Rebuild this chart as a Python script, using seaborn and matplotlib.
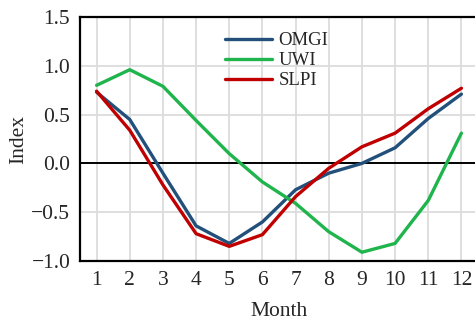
import matplotlib
matplotlib.use("Agg")
import matplotlib.pyplot as plt
import seaborn as sns
import pandas as pd

months = list(range(1, 13))
omgi = [0.73, 0.45, -0.10, -0.64, -0.82, -0.60, -0.27, -0.10, 0.00, 0.16, 0.46, 0.71]
uwi = [0.80, 0.96, 0.79, 0.44, 0.10, -0.19, -0.41, -0.70, -0.91, -0.82, -0.38, 0.31]
slpi = [0.74, 0.34, -0.22, -0.72, -0.85, -0.73, -0.34, -0.05, 0.17, 0.31, 0.56, 0.77]
series_names = ["OMGI", "UWI", "SLPI"]
colors = ["#22507a", "#1fb44c", "#c00000"]
yticks = [-1.0, -0.5, 0.0, 0.5, 1.0, 1.5]

df = pd.DataFrame({
    "Month": months * 3,
    "Index": omgi + uwi + slpi,
    "Series": [series_names[0]] * 12 + [series_names[1]] * 12 + [series_names[2]] * 12,
})

sns.set_style("white")
plt.rcParams["font.family"] = ["Liberation Serif", "DejaVu Serif"]

fig = plt.figure(figsize=(4.75, 3.22), dpi=100)
ax = fig.add_axes([80 / 475, (322 - 261) / 322, 398 / 475, (261 - 17) / 322])

ax.grid(True, color="#dcdcdc", linewidth=1.3)
ax.set_axisbelow(True)
ax.axhline(0, color="black", linewidth=1.4, zorder=1.5)

sns.lineplot(data=df, x="Month", y="Index", hue="Series", palette=colors,
             linewidth=2.4, ax=ax, legend=True)

ax.set_xlim(0.5, 12.5)
ax.set_ylim(-1.0, 1.5)
ax.set_xticks(months)
ax.set_yticks(yticks)
ax.set_yticklabels([f"{v:.1f}".replace("-", "\u2212") for v in yticks])
ax.tick_params(axis="both", length=0, labelsize=15.5, pad=7)
ax.set_xlabel("Month", fontsize=15.5, labelpad=9)
ax.set_ylabel("Index", fontsize=15.5, labelpad=2)

for s in ["left", "top", "bottom", "right"]:
    ax.spines[s].set_color("black")
    ax.spines[s].set_linewidth(1.6)

handles, labels = ax.get_legend_handles_labels()
ax.legend(handles, labels, loc="upper left", bbox_to_anchor=(212 / 475, 1 - 19 / 322),
          bbox_transform=fig.transFigure, frameon=False, fontsize=13.5,
          handlelength=2.5, handletextpad=0.35, labelspacing=0.15, borderpad=0.2)

fig.savefig("out.png", dpi=100)
